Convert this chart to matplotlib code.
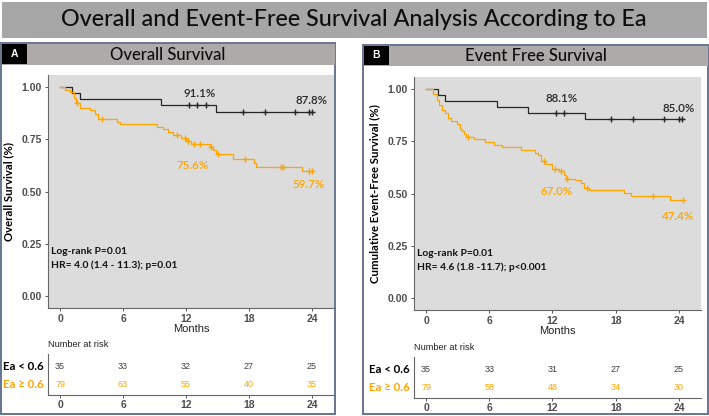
import matplotlib
matplotlib.use('Agg')
import matplotlib.pyplot as plt
from matplotlib.patches import Rectangle
import numpy as np

# ---- data ----
months = [0, 6, 12, 18, 24]
groups = ['Ea < 0.6', 'Ea \u2265 0.6']

# Panel A: overall survival
os_lo_t = [0, 1.1, 1.9, 9.65, 14.9]
os_lo_s = [1.0, 0.971, 0.943, 0.914, 0.882]
os_lo_cens = [12.25, 13.0, 13.9, 17.4, 19.5, 22.4, 23.7, 24.05]
os_lo_end = 24.1
os_hi_t = [0, 0.5, 0.95, 1.3, 1.55, 1.9, 2.85, 3.3, 3.6, 5.4, 5.7, 9.2, 9.8, 10.3, 10.8,
           11.55, 12.0, 12.5, 14.25, 14.55, 14.9, 16.5, 18.5, 18.7, 23.05]
os_hi_s = [1.0, 0.987, 0.975, 0.949, 0.924, 0.899, 0.888, 0.873, 0.848, 0.835, 0.823, 0.810,
           0.797, 0.784, 0.771, 0.757, 0.744, 0.729, 0.714, 0.698, 0.682, 0.656, 0.637, 0.620, 0.600]
os_hi_cens = [1.65, 4.0, 11.15, 11.9, 12.2, 12.8, 13.3, 14.4, 15.0, 17.6, 21.05, 21.2, 23.75, 24.05]
os_hi_end = 24.1
os_risk_lo = [35, 33, 32, 27, 25]
os_risk_hi = [79, 63, 55, 40, 35]
os_labels = [('91.1%', 13.3, 0.967, 'lo'), ('87.8%', 24.0, 0.935, 'lo'),
             ('75.6%', 12.6, 0.625, 'hi'), ('59.7%', 23.7, 0.533, 'hi')]
os_stats = ['Log-rank P=0.01', 'HR= 4.0 (1.4 - 11.3); p=0.01']

# Panel B: event free survival
efs_lo_t = [0, 1.1, 1.8, 6.7, 9.7, 15.1]
efs_lo_s = [1.0, 0.971, 0.943, 0.914, 0.886, 0.855]
efs_lo_cens = [12.35, 13.1, 17.6, 19.6, 22.6, 24.0, 24.3]
efs_lo_end = 24.5
efs_hi_t = [0, 0.7, 1.0, 1.25, 1.5, 1.8, 2.1, 2.4, 2.9, 3.2, 3.4, 3.55, 3.8, 4.5, 5.6, 6.4,
            7.2, 9.0, 10.3, 10.6, 10.9, 11.3, 12.0, 12.6, 13.1, 13.3, 14.1, 14.75, 15.0, 15.5,
            18.75, 19.5, 23.2]
efs_hi_s = [1.0, 0.975, 0.949, 0.924, 0.899, 0.886, 0.861, 0.848, 0.835, 0.810, 0.797, 0.785,
            0.772, 0.759, 0.747, 0.734, 0.721, 0.709, 0.696, 0.683, 0.658, 0.640, 0.620, 0.607,
            0.588, 0.572, 0.566, 0.553, 0.529, 0.518, 0.503, 0.488, 0.470]
efs_hi_cens = [3.95, 11.2, 12.2, 12.8, 13.4, 15.3, 21.5, 24.35]
efs_hi_end = 24.4
efs_risk_lo = [35, 33, 31, 27, 25]
efs_risk_hi = [79, 58, 48, 34, 30]
efs_labels = [('88.1%', 12.9, 0.953, 'lo'), ('85.0%', 24.0, 0.905, 'lo'),
              ('67.0%', 12.35, 0.510, 'hi'), ('47.4%', 23.9, 0.390, 'hi')]
efs_stats = ['Log-rank P=0.01', 'HR= 4.6 (1.8 -11.7); p<0.001']

# ---- style ----
W, H = 709, 416
C_LO, C_HI = '#262626', '#FFA500'
PANEL_BG = '#DCDCDC'
BORDER = '#5A6B86'
TICKC = '#4D4D4D'
CAL = ['Lato', 'DejaVu Sans']
ARIAL = 'Liberation Sans'
cols = {'lo': C_LO, 'hi': C_HI}

fig = plt.figure(figsize=(W / 100, H / 100), dpi=100)
bg = fig.add_axes([0, 0, 1, 1])
bg.set_xlim(0, W); bg.set_ylim(H, 0); bg.axis('off')


def px_axes(x0, y0, x1, y1):
    return fig.add_axes([x0 / W, 1 - y1 / H, (x1 - x0) / W, (y1 - y0) / H])


# title bar
bg.add_patch(Rectangle((2, 2), 705, 36, color='#A6A6A6', lw=0))
bg.text(354, 20, 'Overall and Event-Free Survival Analysis According to Ea', ha='center',
        va='center', fontsize=16.8, family=CAL, fontweight='medium', color='#0d0d0d')


def km(ax, t, s, cens, end, color):
    tt = list(t) + [end]
    ss = list(s) + [s[-1]]
    ax.step(tt, ss, where='post', color=color, lw=0.9)
    idx = np.searchsorted(t, cens, side='right') - 1
    ax.plot(cens, np.array(s)[idx], '+', color=color, ms=5, mew=1.0)


def panel(box, letter, title, ylab, plot_box, table_box, curves, labels, stats, risk):
    x0, y0, x1, y1, htop = box
    bg.add_patch(Rectangle((x0, y0), x1 - x0, y1 - y0, fill=False, ec=BORDER, lw=1.3))
    bg.add_patch(Rectangle((x0 + 0.5, y0 + 0.5), x1 - x0 - 1, htop - y0, color='#AEAAAA', lw=0))
    bg.add_patch(Rectangle((x0 + 1, y0 + 1), 25, htop - y0 - 1, color='black', lw=0))
    bg.text(x0 + 13.5, (y0 + htop) / 2 + 0.5, letter, color='white', fontsize=7.5,
            fontweight='bold', ha='center', va='center', family=ARIAL)
    bg.text((x0 + x1) / 2, (y0 + htop) / 2 + 1, title, fontsize=12, family=CAL,
            fontweight='medium', ha='center', va='center', color='#0d0d0d')

    ax = px_axes(*plot_box)
    ax.set_facecolor(PANEL_BG)
    for c in curves:
        km(ax, *c)
    ax.set_xlim(-1.15, 26.1)
    ax.set_ylim(-0.055, 1.057)
    ax.set_xticks(months)
    ax.set_yticks([0, 0.25, 0.5, 0.75, 1.0])
    ax.set_yticklabels(['0.00', '0.25', '0.50', '0.75', '1.00'])
    for sp in ['top', 'right']:
        ax.spines[sp].set_visible(False)
    for sp in ['left', 'bottom']:
        ax.spines[sp].set_color('#666666'); ax.spines[sp].set_linewidth(0.8)
    ax.tick_params(length=2.5, width=0.7, color='#555555', labelsize=7.5, labelcolor=TICKC, pad=2)
    for lab in ax.get_xticklabels() + ax.get_yticklabels():
        lab.set_fontweight('bold'); lab.set_family(ARIAL)
    ax.set_xlabel('Months', fontsize=8, family=ARIAL, labelpad=0, color='#222222')
    ax.set_ylabel(ylab, fontsize=8.2, family=CAL, fontweight='bold', labelpad=5)
    for txt, xm, yv, g in labels:
        ax.text(xm, yv, txt, color=cols[g], fontsize=8.3, family=CAL, ha='center', va='center',
                fontweight='semibold')
    ax.text(0.01, 0.243, stats[0], transform=ax.transAxes, fontsize=7.4, family=CAL,
            fontweight='bold', va='center', color='#111111')
    ax.text(0.01, 0.183, stats[1], transform=ax.transAxes, fontsize=7.4, family=CAL,
            fontweight='bold', va='center', color='#111111')

    tb = px_axes(*table_box)
    tb.set_xlim(-1.15, 26.1)
    tb.set_ylim(0.389, 2.667)
    tb.set_facecolor('none')
    for sp in ['top', 'right']:
        tb.spines[sp].set_visible(False)
    for sp in ['left', 'bottom']:
        tb.spines[sp].set_color('#666666'); tb.spines[sp].set_linewidth(0.8)
    tb.set_yticks([])
    tb.set_xticks(months)
    tb.tick_params(axis='x', length=2.5, width=0.7, color='#555555', labelsize=7.5,
                   labelcolor=TICKC, pad=1)
    for lab in tb.get_xticklabels():
        lab.set_fontweight('bold'); lab.set_family(ARIAL)
    for m, a, b in zip(months, risk[0], risk[1]):
        tb.text(m, 2, str(a), ha='center', va='center', fontsize=6.5, family=ARIAL, color='#404040')
        tb.text(m, 1, str(b), ha='center', va='center', fontsize=6.5, family=ARIAL, color=C_HI)
    tb.text(0.0, 1.12, 'Number at risk', transform=tb.transAxes, fontsize=6.7, family=ARIAL,
            va='bottom', color='#222222')
    ytr = tb.get_yaxis_transform()
    tb.text(-0.015, 2, groups[0], transform=ytr, ha='right', va='center', fontsize=8.3,
            family=CAL, fontweight='bold', color='black')
    tb.text(-0.015, 1, groups[1], transform=ytr, ha='right', va='center', fontsize=8.3,
            family=CAL, fontweight='bold', color=C_HI)


panel((1, 43, 335, 414, 64), 'A', 'Overall Survival', 'Overall Survival (%)',
      (48, 75, 334, 308), (48, 354, 334, 395),
      [(os_lo_t, os_lo_s, os_lo_cens, os_lo_end, C_LO),
       (os_hi_t, os_hi_s, os_hi_cens, os_hi_end, C_HI)],
      os_labels, os_stats, (os_risk_lo, os_risk_hi))

panel((363, 45, 708, 414, 65), 'B', 'Event Free Survival', 'Cumulative Event-Free Survival (%)',
      (414, 77, 701, 310), (414, 357, 701, 398),
      [(efs_lo_t, efs_lo_s, efs_lo_cens, efs_lo_end, C_LO),
       (efs_hi_t, efs_hi_s, efs_hi_cens, efs_hi_end, C_HI)],
      efs_labels, efs_stats, (efs_risk_lo, efs_risk_hi))

fig.savefig('out.png', dpi=100)
